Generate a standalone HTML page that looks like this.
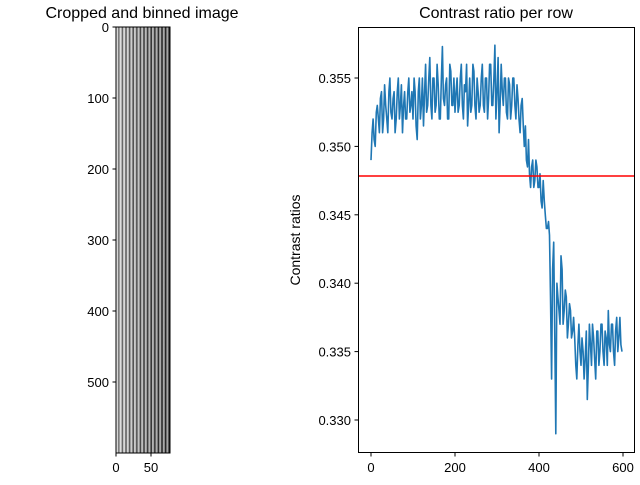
<!DOCTYPE html>
<html><head><meta charset="utf-8"><style>
body{margin:0;background:#fff;}
svg text{font-family:"Liberation Sans","DejaVu Sans",sans-serif;}
</style></head><body>
<svg id="fig" width="640" height="480" viewBox="0 0 640 480" xmlns="http://www.w3.org/2000/svg">
<defs>
<linearGradient id="shade" x1="0" x2="1" y1="0" y2="0">
<stop offset="0" stop-color="#fff" stop-opacity="0.35"/>
<stop offset="1" stop-color="#000" stop-opacity="0.25"/>
</linearGradient>
<pattern id="stripes" x="116" y="0" width="3.6" height="10" patternUnits="userSpaceOnUse">
<rect x="0" y="0" width="3.6" height="10" fill="#d8d8d8"/>
<rect x="2" y="0" width="1.6" height="10" fill="#2a2a2a"/>
</pattern>
</defs>
<text x="142" y="18" font-size="16" text-anchor="middle">Cropped and binned image</text>
<g>
<rect x="116" y="27" width="54" height="426" fill="url(#stripes)"/>
<rect x="116" y="27" width="54" height="426" fill="url(#shade)"/>
<rect x="116" y="27" width="54" height="426" fill="none" stroke="#000" stroke-width="1"/>
</g>
<g id="leftTicks"></g>
<text x="496" y="18" font-size="16" text-anchor="middle">Contrast ratio per row</text>
<text transform="translate(300,240) rotate(-90)" font-size="14" text-anchor="middle">Contrast ratios</text>
<g id="rightTicks"></g>
<g id="plot"></g>
<rect x="358.5" y="27.5" width="276" height="425" fill="none" stroke="#000" stroke-width="1"/>
</svg>
<script>
const ratiosEven=[0.349,0.352,0.350,0.353,0.351,0.354,0.352,0.353,0.351,0.355,0.352,0.354,0.352,0.355,0.353,0.351,0.354,0.352,0.355,0.353,
0.352,0.354,0.3505,0.355,0.353,0.3515,0.356,0.353,0.3565,0.352,0.355,0.353,0.3545,0.352,0.3573,0.353,0.355,0.352,0.3555,0.353,
0.3525,0.355,0.353,0.356,0.352,0.354,0.3515,0.355,0.353,0.3555,0.352,0.354,0.353,0.356,0.3525,0.355,0.3535,0.356,0.353,0.3574,
0.354,0.351,0.356,0.353,0.355,0.352,0.3545,0.353,0.355,0.352,0.3535,0.351,0.3535,0.350,0.349,0.3505,0.347,0.349,0.3475,0.3485,
0.347,0.346,0.3475,0.345,0.344,0.3435,0.333,0.343,0.329,0.339,0.337,0.341,0.338,0.339,0.337,0.338,0.3365,0.336,0.333,0.337,
0.334,0.335,0.3345,0.3315,0.337,0.334,0.336,0.333,0.3365,0.335,0.337,0.334,0.336,0.338,0.335,0.337,0.334,0.3375,0.336,0.3355];
const ratiosOdd=[0.351,0.3505,0.3525,0.352,0.3535,0.351,0.3545,0.352,0.354,0.3525,0.3535,0.351,0.354,0.352,0.3545,0.353,0.352,0.354,0.3525,0.354,
0.355,0.3515,0.354,0.352,0.355,0.354,0.3525,0.355,0.353,0.355,0.3525,0.356,0.352,0.355,0.3535,0.3545,0.352,0.356,0.353,0.355,
0.354,0.3525,0.355,0.353,0.3545,0.356,0.353,0.3525,0.356,0.353,0.355,0.3525,0.355,0.353,0.355,0.352,0.356,0.353,0.355,0.352,
0.3565,0.353,0.354,0.355,0.3525,0.355,0.352,0.355,0.353,0.3545,0.352,0.353,0.3515,0.3515,0.3485,0.348,0.3485,0.347,0.349,0.347,
0.348,0.3455,0.346,0.344,0.3445,0.339,0.341,0.336,0.340,0.338,0.342,0.337,0.3395,0.336,0.3385,0.336,0.3375,0.334,0.3355,0.335,
0.336,0.333,0.3365,0.334,0.3355,0.337,0.3345,0.3365,0.334,0.337,0.335,0.3365,0.334,0.3355,0.337,0.335,0.3365,0.335,0.3375,0.335];
const rowStep=2.5;
const threshold=[0.34784];
const xTicks=[0,200,400,600];
const yTicks=[0.330,0.335,0.340,0.345,0.350,0.355];
const imgYTicks=[0,100,200,300,400,500];
const imgXTicks=[0,50];
const NS="http://www.w3.org/2000/svg";
const X=v=>371+(v-0)*0.42;
const Y=v=>78+(0.355-v)/0.005*68.4;
const IY=v=>27+v*0.71, IX=v=>116+v*0.7;
function mk(tag,attrs,parent){const e=document.createElementNS(NS,tag);for(const k in attrs)e.setAttribute(k,attrs[k]);parent.appendChild(e);return e;}
const lt=document.getElementById('leftTicks'),rt=document.getElementById('rightTicks'),plot=document.getElementById('plot');
imgYTicks.forEach(v=>{const y=IY(v);mk('line',{x1:112.5,x2:116,y1:y,y2:y,stroke:'#000'},lt);
const t=mk('text',{x:109,y:y+5,'font-size':13,'text-anchor':'end'},lt);t.textContent=v;

});
imgXTicks.forEach(v=>{const x=IX(v);mk('line',{x1:x,x2:x,y1:453,y2:456.5,stroke:'#000'},lt);
const t=mk('text',{x:x,y:472,'font-size':13,'text-anchor':'middle'},lt);t.textContent=v;

});
xTicks.forEach(v=>{const x=X(v);mk('line',{x1:x,x2:x,y1:453,y2:456.5,stroke:'#000'},rt);
const t=mk('text',{x:x,y:472,'font-size':13,'text-anchor':'middle'},rt);t.textContent=v;

});
yTicks.forEach(v=>{const y=Y(v);mk('line',{x1:354.5,x2:358,y1:y,y2:y,stroke:'#000'},rt);
const t=mk('text',{x:351,y:y+5,'font-size':13,'text-anchor':'end'},rt);t.textContent=v.toFixed(3);

});
const ratios=[];
ratiosEven.forEach((v,i)=>{ratios.push(v);if(i<ratiosOdd.length)ratios.push(ratiosOdd[i]);});
const pts=ratios.map((v,i)=>X(i*rowStep).toFixed(1)+','+Y(v).toFixed(1)).join(' ');
const line=mk('polyline',{points:pts,fill:'none',stroke:'#1f77b4','stroke-width':1.6,'stroke-linejoin':'round'},plot);


const th=mk('line',{x1:358,x2:635,y1:Y(threshold[0]),y2:Y(threshold[0]),stroke:'#ff0000','stroke-width':1.5},plot);


</script>
</body></html>
